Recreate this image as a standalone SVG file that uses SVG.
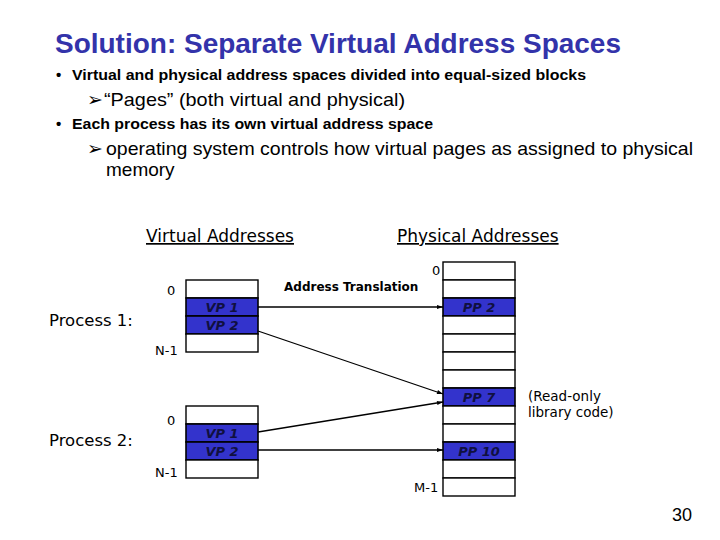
<svg xmlns="http://www.w3.org/2000/svg" width="720" height="540" viewBox="0 0 720 540">
<defs>
<style>
.t{font-family:"Liberation Sans",Arial,sans-serif;fill:#000}
.title{font-family:"Liberation Sans",Arial,sans-serif;font-weight:bold;font-size:28px;fill:#3333aa}
.b1{font-size:15px;font-weight:bold}
.b2{font-size:19px}
.c{font-family:"DejaVu Sans",sans-serif;fill:#000}
.cell{fill:#fff;stroke:#000;stroke-width:1.4}
.blue{fill:#3333cc;stroke:#000;stroke-width:1.6}
.pl{font-family:"DejaVu Sans",sans-serif;font-size:13px;font-style:italic;font-weight:bold;fill:#101040;text-anchor:middle}
.conn{stroke:#000;stroke-width:1.3;fill:none;marker-end:url(#ah)}
</style>
<marker id="ah" viewBox="0 0 10 10" refX="10" refY="5" markerWidth="7" markerHeight="6" orient="auto" markerUnits="userSpaceOnUse"><path d="M0,1.5 L10,5 L0,8.5 z" fill="#000"/></marker>
</defs>
<rect width="720" height="540" fill="#fff"/>
<text class="title" x="55" y="53" textLength="566" lengthAdjust="spacingAndGlyphs">Solution: Separate Virtual Address Spaces</text>
<text class="t b1" x="56" y="80">•</text>
<text class="t b1" x="72" y="80" textLength="514" lengthAdjust="spacingAndGlyphs">Virtual and physical address spaces divided into equal-sized blocks</text>
<text class="t b2" x="87" y="106">➢</text>
<text class="t b2" x="104" y="106" textLength="301" lengthAdjust="spacingAndGlyphs">“Pages” (both virtual and physical)</text>
<text class="t b1" x="56" y="129">•</text>
<text class="t b1" x="72" y="129" textLength="361" lengthAdjust="spacingAndGlyphs">Each process has its own virtual address space</text>
<text class="t b2" x="87" y="155">➢</text>
<text class="t b2" x="106" y="155" textLength="587" lengthAdjust="spacingAndGlyphs">operating system controls how virtual pages as assigned to physical</text>
<text class="t b2" x="106" y="176">memory</text>

<text class="c" x="146" y="242" font-size="17" text-decoration="underline">Virtual Addresses</text>
<text class="c" x="397" y="242" font-size="17" text-decoration="underline">Physical Addresses</text>
<text class="c" x="284" y="291" font-size="12" font-weight="bold">Address Translation</text>
<text class="c" x="49" y="326" font-size="16.5">Process 1:</text>
<text class="c" x="49" y="446" font-size="16.5">Process 2:</text>
<text class="c" x="528" y="401" font-size="13.5">(Read-only</text>
<text class="c" x="528" y="417" font-size="13.5">library code)</text>
<text class="t" x="672" y="521" font-size="18">30</text>

<g id="vp1">
<rect class="cell" x="186" y="280" width="72" height="18"/>
<rect class="blue" x="186" y="298" width="72" height="18"/>
<rect class="blue" x="186" y="316" width="72" height="18"/>
<rect class="cell" x="186" y="334" width="72" height="18"/>
<text class="pl" x="222" y="312">VP 1</text>
<text class="pl" x="222" y="330">VP 2</text>
<text class="c" x="167" y="295" font-size="13">0</text>
<text class="c" x="155" y="355" font-size="13">N-1</text>
</g>
<g id="vp2">
<rect class="cell" x="186" y="406" width="72" height="18"/>
<rect class="blue" x="186" y="424" width="72" height="18"/>
<rect class="blue" x="186" y="442" width="72" height="18"/>
<rect class="cell" x="186" y="460" width="72" height="18"/>
<text class="pl" x="222" y="438">VP 1</text>
<text class="pl" x="222" y="456">VP 2</text>
<text class="c" x="167" y="425" font-size="13">0</text>
<text class="c" x="155" y="477" font-size="13">N-1</text>
</g>
<g id="phys">
<rect class="cell" x="443" y="262" width="72" height="18"/>
<rect class="cell" x="443" y="280" width="72" height="18"/>
<rect class="blue" x="443" y="298" width="72" height="18"/>
<rect class="cell" x="443" y="316" width="72" height="18"/>
<rect class="cell" x="443" y="334" width="72" height="18"/>
<rect class="cell" x="443" y="352" width="72" height="18"/>
<rect class="cell" x="443" y="370" width="72" height="18"/>
<rect class="blue" x="443" y="388" width="72" height="18"/>
<rect class="cell" x="443" y="406" width="72" height="18"/>
<rect class="cell" x="443" y="424" width="72" height="18"/>
<rect class="blue" x="443" y="442" width="72" height="18"/>
<rect class="cell" x="443" y="460" width="72" height="18"/>
<rect class="cell" x="443" y="478" width="72" height="18"/>
<text class="pl" x="479" y="312">PP 2</text>
<text class="pl" x="479" y="402">PP 7</text>
<text class="pl" x="479" y="456">PP 10</text>
<text class="c" x="432" y="275" font-size="13">0</text>
<text class="c" x="414" y="492" font-size="13">M-1</text>
</g>
<g id="connectors">
<line class="conn" x1="258" y1="307" x2="443" y2="307"/>
<line class="conn" x1="258" y1="331" x2="443" y2="394"/>
<line class="conn" x1="258" y1="432" x2="443" y2="402"/>
<line class="conn" x1="258" y1="450" x2="443" y2="450"/>
</g>
</svg>
